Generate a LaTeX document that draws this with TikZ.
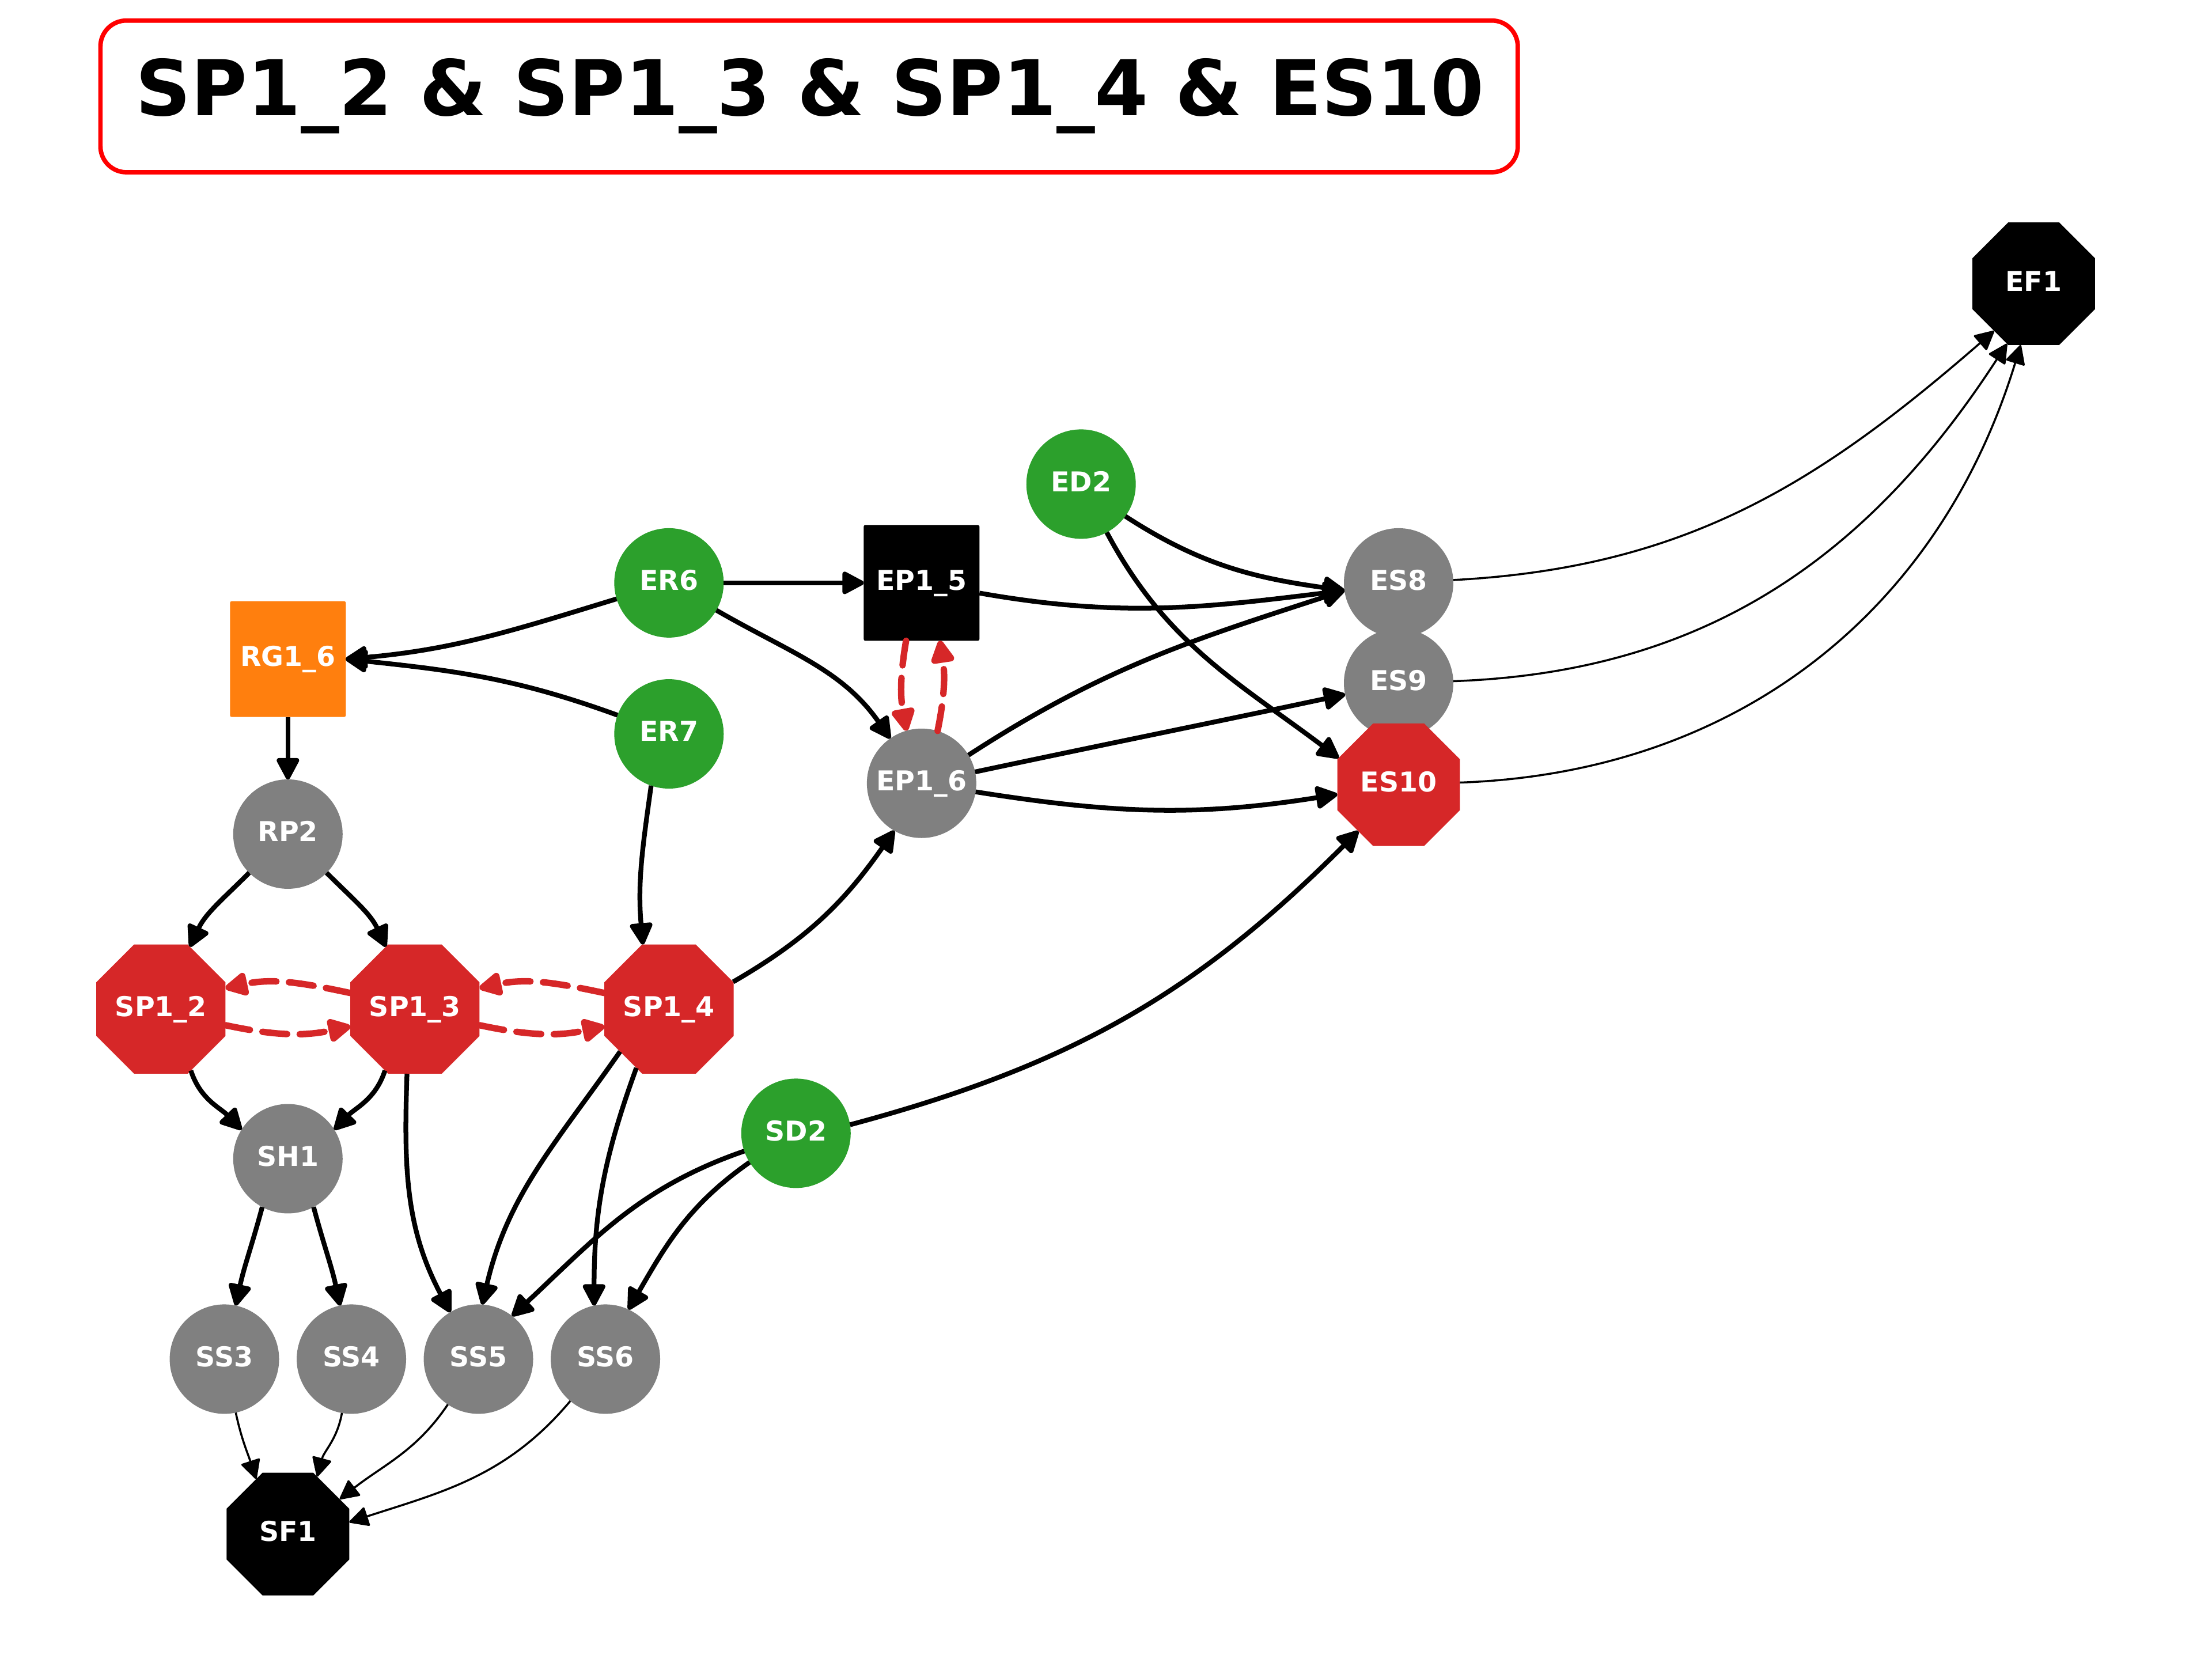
\documentclass[tikz,border=0pt]{standalone}
\usepackage{fontspec}
\setmainfont{DejaVu Sans}
\usetikzlibrary{shapes.geometric,arrows.meta,calc}
\definecolor{cgreen}{HTML}{2CA02C}
\definecolor{corange}{HTML}{FF7F0E}
\definecolor{cred}{HTML}{D62728}
\definecolor{cgray}{HTML}{808080}
\definecolor{cframe}{HTML}{FF0000}
\begin{document}
\begin{tikzpicture}[x=0.0245cm,y=0.0245cm,
  lbl/.style={inner sep=0pt, outer sep=0pt, text=white, font=\fontsize{13.5}{16}\selectfont\bfseries, text height=9.8pt, text depth=2.6pt},
  circnode/.style={lbl, circle, minimum size=1.9cm, fill=#1},
  octnode/.style={lbl, regular polygon, regular polygon sides=8, minimum size=2.305cm, fill=#1},
  sqnode/.style={lbl, rectangle, minimum size=2.01cm, rounded corners=0.8pt, fill=#1},
  blk/.style={line width=2.35pt, -{Triangle[length=12pt,width=12pt,round]}},
  thinedge/.style={line width=1pt, -{Triangle[length=10pt,width=10pt,round]}},
  redge/.style={cred, line width=3.2pt, line cap=round, dash pattern=on 12.3pt off 6.2pt, -{Triangle[length=13pt,width=12.5pt,round]}},
]
\useasboundingbox (0,0) rectangle (1567.35,-1175.5);

% title
\node[draw=cframe, line width=2.2pt, rounded corners=0.45cm, minimum width=24.61cm, minimum height=2.634cm, inner sep=0pt] (titlebox) at (573.3,-68.3) {};
\node[anchor=base, font=\fontsize{38}{45}\selectfont\bfseries, inner sep=0pt] (title) at (573.8,-82) {SP1\_2 \& SP1\_3 \& SP1\_4 \& ES10};

% nodes
\node[octnode=black] (EF1) at (1441,-201) {EF1};
\node[circnode=cgreen] (ED2) at (766,-343) {ED2};
\node[circnode=cgreen] (ER6) at (474,-413) {ER6};
\node[sqnode=black] (EP15) at (653,-413) {EP1\_5};
\node[circnode=cgray] (ES8) at (991,-413) {ES8};
\node[sqnode=corange] (RG16) at (204,-467) {RG1\_6};
\node[circnode=cgray] (ES9) at (991,-484) {ES9};
\node[circnode=cgreen] (ER7) at (474,-520) {ER7};
\node[circnode=cgray] (EP16) at (653,-555) {EP1\_6};
\node[octnode=cred] (ES10) at (991,-556) {ES10};
\node[circnode=cgray] (RP2) at (204,-591) {RP2};
\node[octnode=cred] (SP12) at (114,-715) {SP1\_2};
\node[octnode=cred] (SP13) at (294,-715) {SP1\_3};
\node[octnode=cred] (SP14) at (474,-715) {SP1\_4};
\node[circnode=cgreen] (SD2) at (564,-803) {SD2};
\node[circnode=cgray] (SH1) at (204,-821) {SH1};
\node[circnode=cgray] (SS3) at (159,-963) {SS3};
\node[circnode=cgray] (SS4) at (249,-963) {SS4};
\node[circnode=cgray] (SS5) at (339,-963) {SS5};
\node[circnode=cgray] (SS6) at (429,-963) {SS6};
\node[octnode=black] (SF1) at (204,-1087) {SF1};

% thick edges
\draw[blk] (ER6) to[out=197,in=5] (RG16.east);
\draw[blk] (ER7) to[out=160,in=-6] (RG16.east);
\draw[blk] (RG16) -- (RP2);
\draw[blk] (RP2) to[out=-135,in=65] (SP12);
\draw[blk] (RP2) to[out=-45,in=115] (SP13);
\draw[blk] (ER6) -- (EP15);
\draw[blk] (ER6) to[out=-30,in=125] (EP16);
\draw[blk] (ER7.-109) to[out=-98,in=95] (SP14.112);
\draw[blk] (SP14.23) to[out=30,in=235] (EP16.240);
\draw[blk] (EP15) to[out=-10,in=187] (ES8.188);
\draw[blk] (ED2.-36) to[out=-33,in=172] (ES8.188);
\draw[blk] (ED2) to[out=-62,in=143] (ES10.156);
\draw[blk] (EP16.31) to[out=33,in=198] (ES8.188);
\draw[blk] (EP16) to[out=12,in=192] (ES9);
\draw[blk] (EP16) to[out=-9,in=189] (ES10);
\draw[blk] (SD2.9) to[out=15,in=225] (ES10.229);
\draw[blk] (SP12.-64) to[out=-72,in=134] (SH1.148);
\draw[blk] (SP13.-116) to[out=-108,in=46] (SH1.32);
\draw[blk] (SH1.-118) to[out=-105,in=78] (SS3);
\draw[blk] (SH1.-62) to[out=-75,in=102] (SS4);
\draw[blk] (SP13.-97) to[out=-92,in=118] (SS5.121);
\draw[blk] (SP14.-139) to[out=-125,in=77] (SS5.86);
\draw[blk] (SP14.-119) to[out=-110,in=90] (SS6.102);
\draw[blk] (SD2) to[out=199,in=43] (SS5.52);
\draw[blk] (SD2.212) to[out=215,in=60] (SS6.65);

% thin edges
\draw[thinedge] (SS3) to[out=-78,in=108] (SF1.120);
\draw[thinedge] (SS4) to[out=-100,in=75] (SF1.63);
\draw[thinedge] (SS5) to[out=-124,in=38] (SF1.34);
\draw[thinedge] (SS6) to[out=-130,in=18] (SF1.11);
\draw[thinedge] (ES8) to[out=3,in=221] (EF1.230);
\draw[thinedge] (ES9) to[out=2,in=237] (EF1.246);
\draw[thinedge] (ES10) to[out=2,in=253] (EF1.258);

% red dashed edges
\draw[redge] ($(EP15.south)+(-11,0)$) to[bend right=10] (EP16.106);
\draw[redge] (EP16.73) to[bend right=10] ($(EP15.south)+(13,0)$);
\draw[redge] (SP12.-14) to[out=-12,in=192] (SP13.195);
\draw[redge] (SP13.166) to[out=168,in=12] (SP12.18);
\draw[redge] (SP13.-14) to[out=-12,in=192] (SP14.195);
\draw[redge] (SP14.166) to[out=168,in=12] (SP13.18);
\end{tikzpicture}
\end{document}
